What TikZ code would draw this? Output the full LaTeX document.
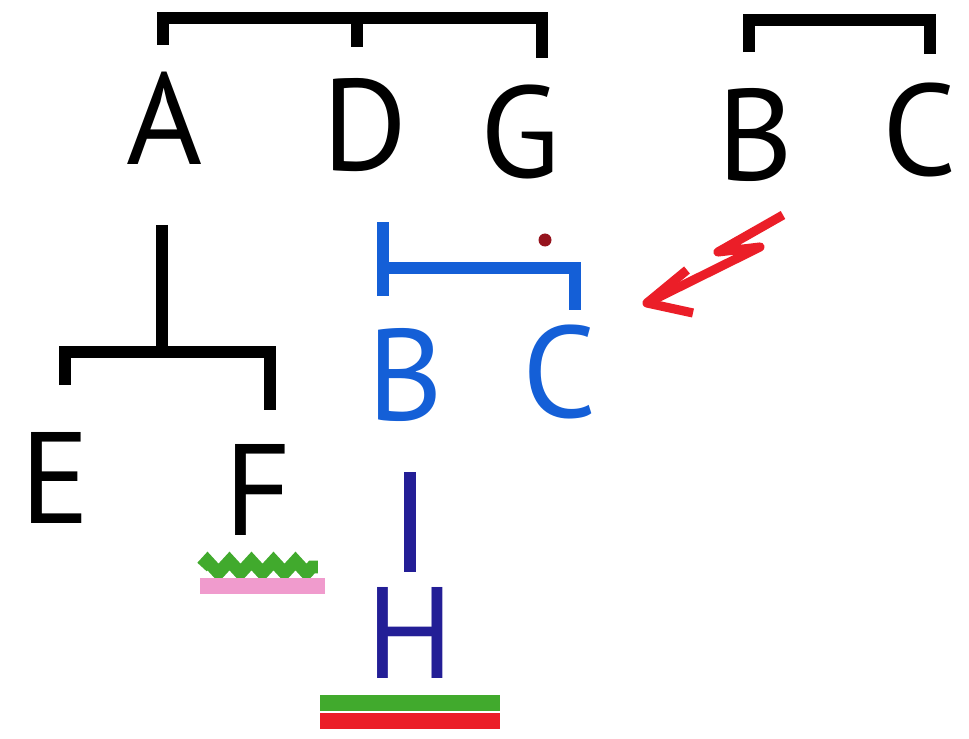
\documentclass[tikz,border=0pt]{standalone}
\usepackage{fontspec}
\setmainfont{PT Sans}
\usepackage{tikz}
\usetikzlibrary{calc}
\usetikzlibrary{positioning}
\usetikzlibrary{decorations.pathmorphing}
\definecolor{penblue}{RGB}{20,95,215}
\definecolor{pendarkblue}{RGB}{35,30,150}
\definecolor{penred}{RGB}{235,30,40}
\definecolor{pengreen}{RGB}{65,170,45}
\definecolor{penpink}{RGB}{240,155,205}
\definecolor{pendot}{RGB}{150,20,30}

\begin{document}
\begin{tikzpicture}
				\tikzstyle{letter}=[font=\fontsize{37}{37}\selectfont, inner sep=0pt, text=black]
				\tikzstyle{blackline}=[line width=3.4pt, black]
				\tikzstyle{blueline}=[line width=3.4pt, penblue]
				\tikzstyle{dkblueline}=[line width=3.6pt, pendarkblue]
				\tikzstyle{redline}=[line width=2.6pt, penred, line join=round]
				\tikzstyle{barline}=[line width=4.6pt]
				
				\useasboundingbox (0,0) rectangle (9.69,-7.39);
				
				\node (tA) at (1.65,-1.18) [letter] {A};
				\node (tD) at (3.65,-1.25) [letter] {D};
				\node (tG) at (5.20,-1.32) [letter] {G};
				\node (tB) at (7.55,-1.35) [letter] {B};
				\node (tC) at (9.20,-1.30) [letter] {C};
				\node (tE) at (0.55,-4.78) [letter] {E};
				\node (tF) at (2.58,-4.90) [letter] {F};
				\node (tBb) at (4.05,-3.75) [letter, text=penblue] {B};
				\node (tCb) at (5.60,-3.72) [letter, text=penblue] {C};
				\node (tH) at (4.10,-6.33) [letter, text=pendarkblue] {H};
				
				% top brackets
				\coordinate (kA) at (1.63,-0.45);
				\coordinate (kD) at (3.57,-0.47);
				\coordinate (kG) at (5.42,-0.58);
				\coordinate (barADG) at (3.57,-0.18);
				\draw [blackline] (kA) |- (barADG) -| (kG);
				\draw [blackline] (barADG) -- (kD);
				\coordinate (kB) at (7.49,-0.52);
				\coordinate (kC) at (9.30,-0.54);
				\coordinate (barBC) at (8.40,-0.20);
				\draw [blackline] (kB) |- (barBC) -| (kC);
				
				% A with E and F
				\coordinate (barEF) at (1.62,-3.52);
				\coordinate (kE) at (0.65,-3.85);
				\coordinate (kF) at (2.70,-4.10);
				\draw [blackline, shorten <=0.6cm] (tA.south -| barEF) -- (barEF);
				\draw [blackline] (kE) |- (barEF) -| (kF);
				\draw [pengreen, line width=3.6pt, decorate, decoration={zigzag, segment length=0.22cm, amplitude=0.06cm}] (2.02,-5.67) -- (3.18,-5.67);
				\draw [penpink, barline] (2.00,-5.86) -- (3.25,-5.86);
				
				% blue bracket
				\coordinate (bl1) at (3.83,-2.22);
				\coordinate (bl2) at (3.83,-2.96);
				\coordinate (blm) at (3.83,-2.68);
				\coordinate (kCb) at (5.75,-3.10);
				\draw [blueline] (bl1) -- (bl2);
				\draw [blueline] (blm) -| (kCb);
				\draw [dkblueline, shorten <=0.5cm, shorten >=0.15cm] (tBb.south -| tH) -- (tH.north);
				\draw [pengreen, barline] (3.20,-7.03) -- (5.00,-7.03);
				\draw [penred, barline] (3.20,-7.21) -- (5.00,-7.21);
				
				% red dot and flash
				\fill [pendot] (5.45,-2.40) circle (0.065);
				\coordinate (z0) at (7.83,-2.15);
				\coordinate (z1) at (7.18,-2.52);
				\coordinate (z2) at (7.60,-2.47);
				\coordinate (z3) at (6.47,-3.03);
				\draw [redline] (z0) -- (z1) -- (z2) -- (z3);
				\draw [redline] ($(z3)+(0.40,0.33)$) -- (z3) -- ($(z3)+(0.46,-0.10)$);
				\end{tikzpicture}
\end{document}
